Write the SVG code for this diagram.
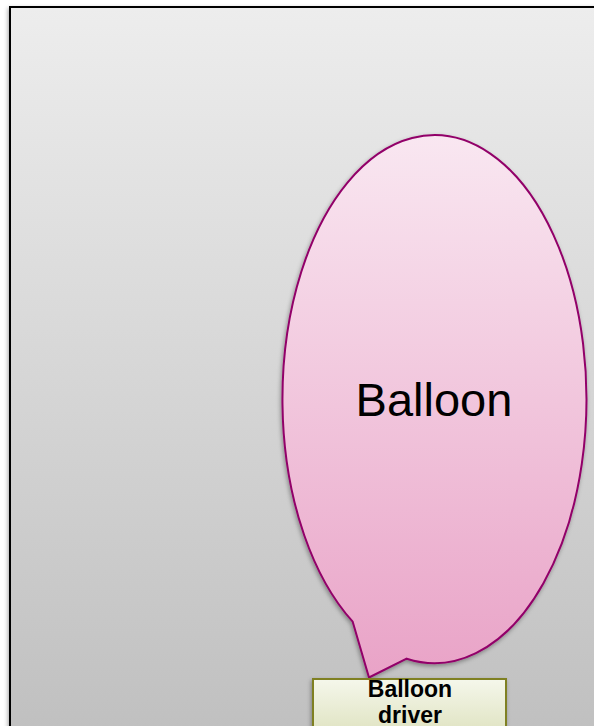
<svg xmlns="http://www.w3.org/2000/svg" width="594" height="726" viewBox="0 0 594 726">
  <defs>
    <linearGradient id="bg" x1="0" y1="0" x2="0" y2="1">
      <stop offset="0" stop-color="#ededed"/>
      <stop offset="1" stop-color="#bfbfbf"/>
    </linearGradient>
    <linearGradient id="pink" x1="0" y1="0" x2="0" y2="1">
      <stop offset="0" stop-color="#f9e7f1"/>
      <stop offset="1" stop-color="#e9a3c7"/>
    </linearGradient>
    <linearGradient id="cream" x1="0" y1="0" x2="0" y2="1">
      <stop offset="0" stop-color="#f5f7eb"/>
      <stop offset="1" stop-color="#dde1bd"/>
    </linearGradient>
    <filter id="sh" x="-10%" y="-10%" width="120%" height="120%">
      <feDropShadow dx="-1" dy="2" stdDeviation="2" flood-color="#000" flood-opacity="0.35"/>
    </filter>
    <style>
      .big { font-family: "Liberation Sans", Arial, sans-serif; font-size: 47px; fill: #000; }
      .lbl { font-family: "Liberation Sans", Arial, sans-serif; font-size: 23px; font-weight: bold; fill: #000; }
    </style>
  </defs>
  <rect x="0" y="0" width="594" height="726" fill="#ffffff"/>
  <g id="frame">
    <rect x="10" y="7" width="600" height="740" fill="url(#bg)" stroke="#000" stroke-width="2" filter="url(#sh)"/>
  </g>
  <g id="connectors"></g>
  <g id="balloon">
    <path d="M 352.7 621.7 L 369 677.5 L 406.7 658.7 A 152 264 0 1 0 352.7 621.7 Z" fill="url(#pink)" stroke="#920069" stroke-width="2" filter="url(#sh)"/>
    <text class="big" x="434" y="416" text-anchor="middle">Balloon</text>
  </g>
  <g id="driver">
    <rect x="313" y="679" width="193" height="60" fill="url(#cream)" stroke="#7f8020" stroke-width="2" filter="url(#sh)"/>
    <text class="lbl" x="410" y="697" text-anchor="middle">Balloon</text>
    <text class="lbl" x="410" y="723" text-anchor="middle">driver</text>
  </g>
</svg>
